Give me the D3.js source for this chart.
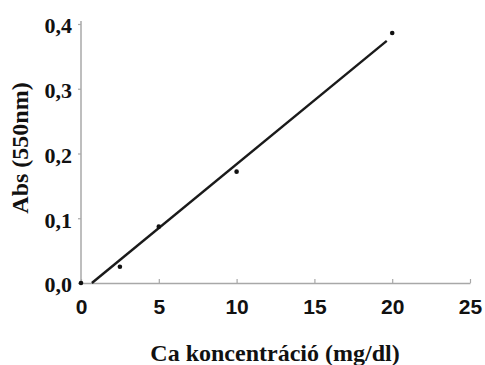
<!DOCTYPE html>
<html><head><meta charset="utf-8">
<script src="https://cdn.jsdelivr.net/npm/d3@7"></script>
<style>html,body{margin:0;padding:0;background:#fff;}</style>
</head><body>
<svg id="c" width="485" height="365"></svg>
<script>
const concX = [0, 2.5, 5, 10, 20];
const absY = [0, 0.025, 0.087, 0.172, 0.386];
const fitX = [0.7, 19.65];
const fitY = [0, 0.374];
const xTicks = [0, 5, 10, 15, 20, 25];
const yTicks = [0, 0.1, 0.2, 0.3, 0.4];
const yTickLabels = ["0,0", "0,1", "0,2", "0,3", "0,4"];
const xTitle = "Ca koncentráció (mg/dl)";
const yTitle = "Abs (550nm)";

const svg = d3.select("#c");
const x = d3.scaleLinear().domain([0, 25]).range([81, 470]);
const y = d3.scaleLinear().domain([0, 0.4]).range([283, 24]);
const axisColor = "#a8a8a8";

const gx = svg.append("g").attr("transform", "translate(0,283)")
  .call(d3.axisBottom(x).tickValues(xTicks).tickSize(-4).tickPadding(16).tickSizeOuter(0));
gx.select(".domain").attr("stroke", axisColor).attr("stroke-width", 1.5);
gx.selectAll(".tick line").attr("stroke", axisColor).attr("stroke-width", 1.2);
gx.selectAll(".tick text").attr("fill", "#111")
  .style("font-family", "'Liberation Sans', Arial, sans-serif")
  .style("font-weight", "bold").style("font-size", "21px");

const gy = svg.append("g").attr("transform", "translate(81,0)")
  .call(d3.axisLeft(y).tickValues(yTicks).tickFormat((d, i) => yTickLabels[i]).tickSize(3).tickPadding(6).tickSizeOuter(0));
gy.select(".domain").attr("stroke", axisColor).attr("stroke-width", 1.5)
  .attr("d", `M0,${y(0.4) - 3}V${y(0)}`);
gy.selectAll(".tick line").attr("stroke", axisColor).attr("stroke-width", 1.2);
gy.selectAll(".tick text").attr("fill", "#111").attr("dy", "0.4em")
  .style("font-family", "'Liberation Serif', 'Times New Roman', serif")
  .style("font-weight", "bold").style("font-size", "22px");

const line = d3.line().x(d => x(d[0])).y(d => y(d[1]));
svg.append("path").datum(fitX.map((v, i) => [v, fitY[i]]))
  .attr("d", line).attr("fill", "none").attr("stroke", "#1a1a1a").attr("stroke-width", 2.4);

svg.selectAll("circle.pt").data(concX.map((v, i) => [v, absY[i]])).enter()
  .append("circle").attr("class", "pt")
  .attr("cx", d => x(d[0])).attr("cy", d => y(d[1])).attr("r", 2.3).attr("fill", "#111");

svg.append("text").attr("x", 275).attr("y", 361).attr("text-anchor", "middle")
  .attr("fill", "#111")
  .style("font-family", "'Liberation Serif', 'Times New Roman', serif")
  .style("font-weight", "bold").style("font-size", "24px").text(xTitle);

svg.append("text").attr("transform", "translate(28,148) rotate(-90)").attr("text-anchor", "middle")
  .attr("fill", "#111")
  .style("font-family", "'Liberation Serif', 'Times New Roman', serif")
  .style("font-weight", "bold").style("font-size", "24px").text(yTitle);
</script>
</body></html>
